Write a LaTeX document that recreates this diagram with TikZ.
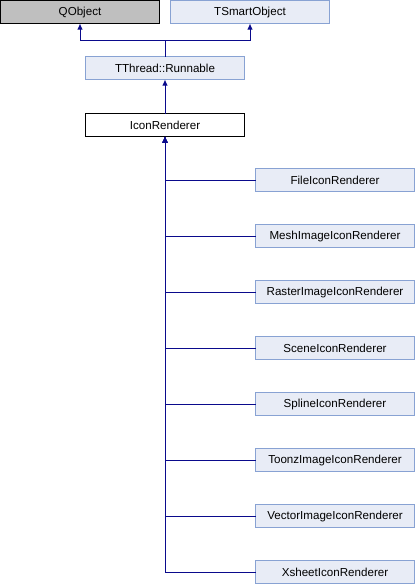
\documentclass[tikz,border=0pt]{standalone}
\usepackage{fontspec}
\setmainfont{Liberation Sans}
\usetikzlibrary{arrows.meta}
\definecolor{basegray}{HTML}{BFBFBF}
\definecolor{classfill}{HTML}{E8ECF6}
\definecolor{classborder}{HTML}{88A2D3}
\definecolor{edgeblue}{HTML}{0A0A8C}
\tikzset{
  cls/.style={rectangle, minimum width=159pt, minimum height=23pt, inner sep=0pt, outer sep=0pt, line width=1pt, font=\fontsize{11.6}{13}\selectfont},
  extern/.style={cls, fill=basegray, draw=black},
  linked/.style={cls, fill=classfill, draw=classborder},
  current/.style={cls, fill=white, draw=black},
  inherit/.style={{Latex[length=6pt,width=5.5pt]}-, line width=1pt, draw=edgeblue}
}
\begin{document}
\begin{tikzpicture}[x=1pt, y=-1pt]
\useasboundingbox (0,0) rectangle (415,584);

\node[extern] (qobject) at (80, 12) {QObject};
\node[linked] (smartobj) at (250, 12) {TSmartObject};
\node[linked] (runnable) at (165, 68) {TThread::Runnable};
\node[current] (iconrend) at (165, 125) {IconRenderer};

\node[linked] (fileicon) at (335, 180) {FileIconRenderer};
\node[linked] (meshicon) at (335, 236) {MeshImageIconRenderer};
\node[linked] (rastericon) at (335, 292) {RasterImageIconRenderer};
\node[linked] (sceneicon) at (335, 348) {SceneIconRenderer};
\node[linked] (splineicon) at (335, 404) {SplineIconRenderer};
\node[linked] (toonzicon) at (335, 460) {ToonzImageIconRenderer};
\node[linked] (vectoricon) at (335, 516) {VectorImageIconRenderer};
\node[linked] (xsheeticon) at (335, 572) {XsheetIconRenderer};

\coordinate (join) at (165, 40);

\draw[inherit] (qobject.south) |- (join) -- (runnable.north);
\draw[inherit] (smartobj.south) |- (join);
\draw[inherit] (runnable.south) -- (iconrend.north);

\draw[inherit] (iconrend.south) |- (fileicon.west);
\draw[inherit] (iconrend.south) |- (meshicon.west);
\draw[inherit] (iconrend.south) |- (rastericon.west);
\draw[inherit] (iconrend.south) |- (sceneicon.west);
\draw[inherit] (iconrend.south) |- (splineicon.west);
\draw[inherit] (iconrend.south) |- (toonzicon.west);
\draw[inherit] (iconrend.south) |- (vectoricon.west);
\draw[inherit] (iconrend.south) |- (xsheeticon.west);

\end{tikzpicture}
\end{document}
